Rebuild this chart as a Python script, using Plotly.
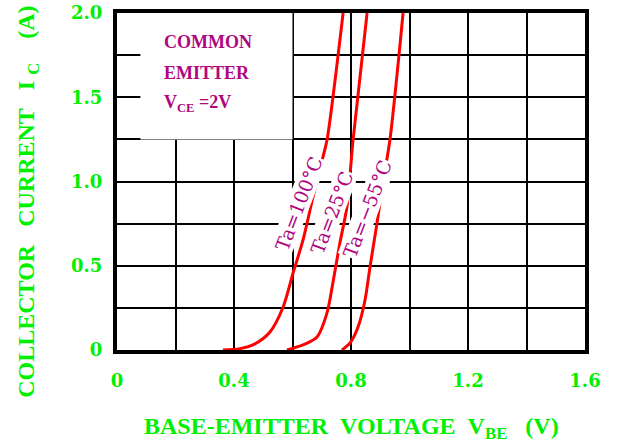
import plotly.graph_objects as go

# Collector current vs base-emitter voltage
vbe_100 = [0.362, 0.420, 0.470, 0.523, 0.568, 0.602, 0.636, 0.670, 0.704, 0.718, 0.773]
ic_100 = [0.0, 0.008, 0.035, 0.107, 0.255, 0.457, 0.653, 0.908, 1.145, 1.246, 2.0]

vbe_25 = [0.581, 0.636, 0.684, 0.718, 0.738, 0.762, 0.786, 0.807, 0.855]
ic_25 = [0.0, 0.030, 0.077, 0.220, 0.398, 0.635, 0.849, 1.246, 2.0]

vbe_m55 = [0.769, 0.797, 0.824, 0.848, 0.865, 0.889, 0.909, 0.933, 0.978]
ic_m55 = [0.0, 0.042, 0.136, 0.297, 0.493, 0.754, 0.991, 1.246, 2.0]

x_ticks = [0, 0.4, 0.8, 1.2, 1.6]
x_tick_text = ['0', '0.4', '0.8', '1.2', '1.6']
y_ticks = [0, 0.5, 1.0, 1.5, 2.0]
y_tick_text = ['0', '0.5', '1.0', '1.5', '2.0']

curve_labels = ['Ta=100°C', 'Ta=25°C', 'Ta=−55°C']
label_x = [0.622, 0.735, 0.855]
label_y = [0.872, 0.819, 0.837]

NB = '\u00a0'
note_lines = ['COMMON', 'EMITTER', f'V<sub>CE</sub>{NB}=2V']
note_y = [1.828, 1.644, 1.460]

GREEN = '#00F000'
MAGENTA = '#B0067F'
TITLE_FONT = 'Liberation Serif'
TICK_FONT = 'DejaVu Serif'

fig = go.Figure()

for xs, ys in [(vbe_100, ic_100), (vbe_25, ic_25), (vbe_m55, ic_m55)]:
    fig.add_trace(go.Scatter(
        x=xs, y=ys, mode='lines',
        line=dict(color='#FF0000', width=3, shape='spline', smoothing=0.8),
        showlegend=False, hoverinfo='skip'
    ))

# white box that hides the grid behind the note
fig.add_shape(type='rect', x0=0.08, x1=0.6, y0=1.25, y1=2.0,
              fillcolor='white', line_width=0, layer='between')

for txt, ny in zip(note_lines, note_y):
    fig.add_annotation(
        x=0.154, y=ny, xanchor='left', yanchor='middle',
        text=txt, showarrow=False, align='left',
        font=dict(family=TITLE_FONT, size=18, color=MAGENTA, weight='bold')
    )

for txt, lx, ly in zip(curve_labels, label_x, label_y):
    fig.add_annotation(
        x=lx, y=ly, text=txt, showarrow=False, textangle=-69,
        bgcolor='white', borderpad=0,
        font=dict(family=TICK_FONT, size=19, color=MAGENTA)
    )

# axis titles as annotations so they sit where the reference has them
fig.add_annotation(
    x=0.5, y=-0.231, xref='paper', yref='paper', xanchor='center', yanchor='middle',
    text=f'BASE-EMITTER{NB}{NB}VOLTAGE{NB}{NB}V<sub>BE</sub>{NB}{NB}{NB}(V)', showarrow=False,
    font=dict(family=TITLE_FONT, size=24, color=GREEN, weight='bold')
)
fig.add_annotation(
    x=-0.19, y=0.44, xref='paper', yref='paper', xanchor='center', yanchor='middle',
    textangle=-90,
    text=f'COLLECTOR{NB}{NB}{NB}CURRENT{NB}{NB}{NB}I{NB}<sub>C</sub>{NB}{NB}{NB}{NB}(A)', showarrow=False,
    font=dict(family=TITLE_FONT, size=24, color=GREEN, weight='bold')
)

axis_common = dict(
    showline=True, linecolor='black', linewidth=4, mirror=True,
    showgrid=True, gridcolor='black', gridwidth=1.5,
    zeroline=False, ticks='', automargin=False,
    tickfont=dict(family=TICK_FONT, size=18, color=GREEN, weight='bold'),
)

fig.update_xaxes(
    range=[0, 1.6], tickvals=x_ticks, ticktext=x_tick_text,
    minor=dict(dtick=0.2, tick0=0, showgrid=True, gridcolor='black', gridwidth=1.5),
    ticklabelstandoff=11,
    **axis_common
)
fig.update_yaxes(
    range=[0, 2.0], tickvals=y_ticks, ticktext=y_tick_text,
    minor=dict(dtick=0.25, tick0=0, showgrid=True, gridcolor='black', gridwidth=1.5),
    ticklabelstandoff=7,
    **axis_common
)

fig.update_layout(
    width=619, height=447,
    margin=dict(l=117, r=34, t=13, b=97),
    plot_bgcolor='white', paper_bgcolor='white',
)

# drop the default page margin so the figure sits at the window's corner
fig.write_html('out.html', config={'displayModeBar': False},
               post_script="document.body.style.margin='0';")
